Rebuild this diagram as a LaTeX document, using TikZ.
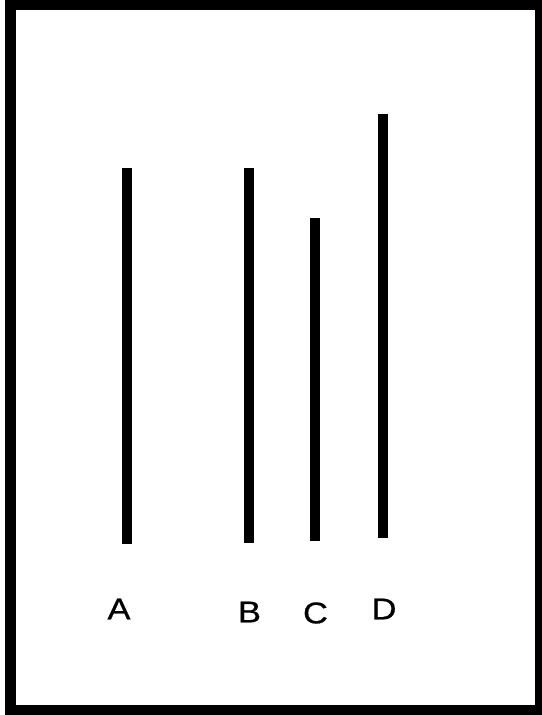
\documentclass[tikz,border=0pt]{standalone}
\usepackage{fontspec}
\setmainfont{Liberation Sans}
\newfontfamily\lblfont[FakeBold=0.6]{Liberation Sans}
\begin{document}
\begin{tikzpicture}[x=1pt, y=-1pt,
  frame/.style = {draw=black, line width=11pt},
  bar/.style   = {draw=black, line width=10.5pt},
  lbl/.style   = {font=\lblfont\fontsize{30}{30}\selectfont, xscale=1.15, inner sep=0pt},
]
\useasboundingbox (0,0) rectangle (541,715);
% ── Outer frame ──────────────────────────────────────────────────────────────
\draw[frame] (10.5,4.5) rectangle (540.5,710.5);

% ── Bars with their letters below ────────────────────────────────────────────
\foreach \n/\x/\t/\b/\lx/\ly in {A/127/168/544/119/609, B/249/168/543/249.5/612,
                                 C/315/218/541/315.5/613, D/383/114/538/384/609} {
  \coordinate (\n top) at (\x,\t);
  \coordinate (\n bot) at (\x,\b);
  \draw[bar] (\n top) -- (\n bot);
  \node[lbl] (\n lbl) at (\lx,\ly) {\n};
}
\end{tikzpicture}
\end{document}
